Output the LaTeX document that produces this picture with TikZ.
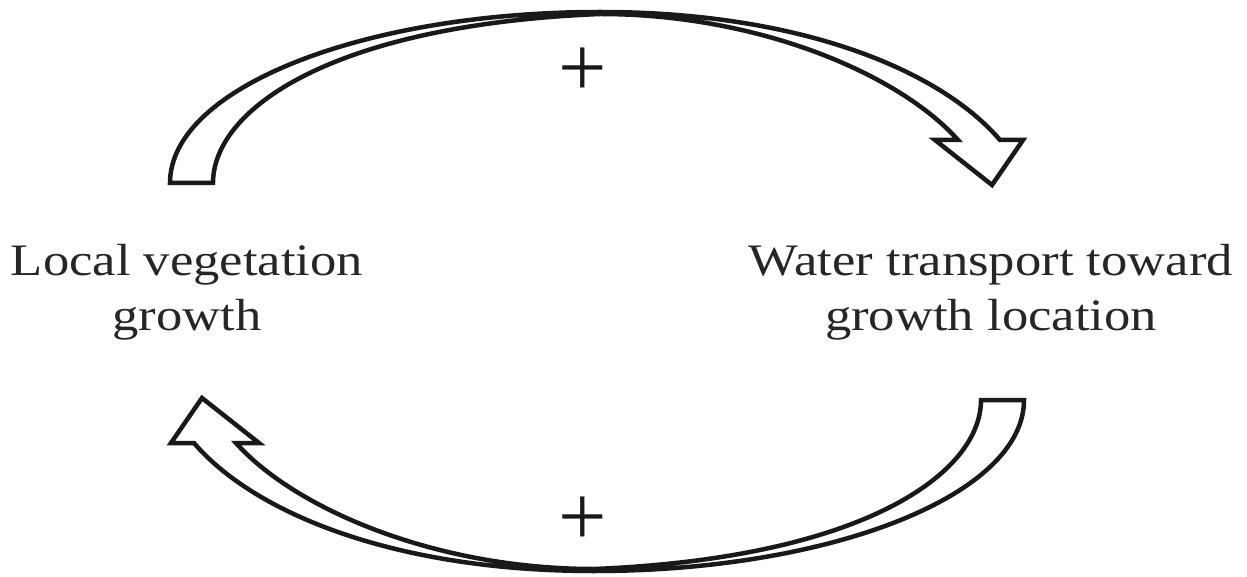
\documentclass[tikz,border=0pt]{standalone}
\usepackage{fontspec}
\setmainfont{Liberation Serif}[FakeStretch=1.17]
\newfontfamily\signfont{Liberation Serif}
\begin{document}
\begin{tikzpicture}[x=1pt,y=-1pt]
\tikzset{
  arrowline/.style={draw=black!90, line width=4.5pt, line join=miter, miter limit=10},
  label/.style={align=center, inner sep=0pt, text=black!85, font=\fontsize{45}{55}\selectfont},
  sign/.style={inner sep=0pt, text=black!90, font=\signfont\fontsize{86}{86}\selectfont},
  looparrow/.pic={
    \draw[arrowline] (170,183) .. controls (170,88) and (363,12) .. (600,12)
       .. controls (800,12) and (940,70) .. (1000,140)
       -- (1023,140) -- (992,185) -- (935,140) -- (958,140)
       .. controls (900,75) and (760,14) .. (600,14)
       .. controls (330,25) and (213,110) .. (213,183) -- cycle;
  }
}
\useasboundingbox (0,0) rectangle (1247,577);
\node[label] (veg) at (187,292) {Local vegetation\\growth};
\node[label] (water) at (991,292) {Water transport toward\\growth location};
\pic (toparrow) at (0,0) {looparrow};
\pic[rotate=180] (bottomarrow) at (1194,583) {looparrow};
\node[sign] (ptop) at (583,72) {+};
\node[sign] (pbot) at (583,521) {+};
\end{tikzpicture}
\end{document}
